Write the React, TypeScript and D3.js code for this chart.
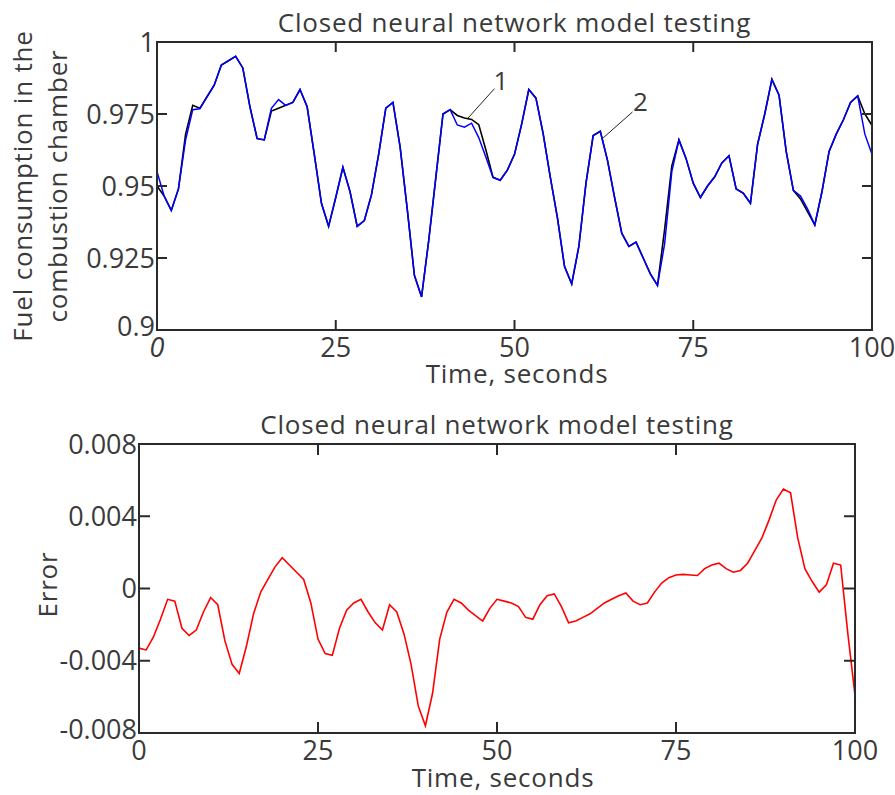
import React from 'react';
import * as d3 from 'd3';

// time axis, one reading per second
const TIME = d3.range(0, 101);

// curve 1 – measured fuel consumption (black)
const MEASURED = [
  0.950, 0.9465, 0.9415, 0.949, 0.968, 0.978, 0.977, 0.981, 0.985, 0.992,
  0.9935, 0.995, 0.991, 0.9775, 0.9665, 0.966, 0.976, 0.977, 0.978, 0.979,
  0.9835, 0.9775, 0.961, 0.944, 0.936, 0.946, 0.9565, 0.948, 0.936, 0.938,
  0.947, 0.961, 0.977, 0.979, 0.9636, 0.942, 0.919, 0.9115, 0.931, 0.953,
  0.975, 0.9765, 0.9745, 0.9736, 0.9731, 0.9713, 0.9625, 0.953, 0.952, 0.9555,
  0.961, 0.9715, 0.9835, 0.9805, 0.9683, 0.9532, 0.939, 0.922, 0.916, 0.929,
  0.951, 0.9675, 0.969, 0.959, 0.946, 0.9336, 0.929, 0.9305, 0.925, 0.9195,
  0.9155, 0.935, 0.957, 0.966, 0.9595, 0.951, 0.946, 0.950, 0.9532, 0.958,
  0.9605, 0.949, 0.9475, 0.944, 0.9645, 0.975, 0.987, 0.9815, 0.962, 0.9485,
  0.9455, 0.941, 0.9365, 0.948, 0.962, 0.968, 0.973, 0.979, 0.9813, 0.975,
  0.971,
];

// curve 2 – neural network model output (blue)
const MODEL = [
  0.955, 0.9465, 0.9415, 0.949, 0.966, 0.9765, 0.9768, 0.981, 0.985, 0.992,
  0.9935, 0.995, 0.991, 0.9775, 0.9665, 0.966, 0.977, 0.980, 0.978, 0.979,
  0.9835, 0.9775, 0.961, 0.944, 0.936, 0.946, 0.9565, 0.948, 0.936, 0.938,
  0.947, 0.961, 0.977, 0.979, 0.9636, 0.942, 0.919, 0.9115, 0.931, 0.953,
  0.975, 0.9765, 0.9712, 0.9704, 0.9718, 0.9668, 0.960, 0.953, 0.952, 0.9555,
  0.961, 0.9715, 0.9835, 0.9805, 0.9683, 0.9532, 0.939, 0.922, 0.916, 0.929,
  0.951, 0.9675, 0.969, 0.959, 0.946, 0.9336, 0.929, 0.9305, 0.925, 0.9195,
  0.9155, 0.930, 0.955, 0.966, 0.9595, 0.951, 0.946, 0.950, 0.9532, 0.958,
  0.9605, 0.949, 0.9475, 0.944, 0.9645, 0.975, 0.987, 0.9815, 0.962, 0.9485,
  0.9465, 0.942, 0.9365, 0.948, 0.962, 0.968, 0.973, 0.979, 0.9813, 0.968,
  0.961,
];

// error of the model (red)
const ERROR = [
  -0.0033, -0.0034, -0.0027, -0.0017, -0.0006, -0.0007, -0.0022, -0.0026, -0.0023, -0.0013,
  -0.0005, -0.0009, -0.0029, -0.0042, -0.0047, -0.0032, -0.0014, -0.0002, 0.0005, 0.0012,
  0.0017, 0.0013, 0.0009, 0.0005, -0.0008, -0.0028, -0.0036, -0.0037, -0.0022, -0.0012,
  -0.0008, -0.0006, -0.0013, -0.0019, -0.0023, -0.0009, -0.0013, -0.0025, -0.0042, -0.0065,
  -0.0076, -0.0058, -0.0028, -0.0013, -0.0006, -0.0008, -0.0012, -0.0015, -0.0018, -0.0011,
  -0.0006, -0.0007, -0.0008, -0.0010, -0.0016, -0.0017, -0.0009, -0.0004, -0.0003, -0.0010,
  -0.0019, -0.0018, -0.0016, -0.0014, -0.0011, -0.0008, -0.0006, -0.0004, -0.00025, -0.0007,
  -0.0009, -0.0008, -0.0002, 0.0003, 0.0006, 0.00075, 0.00078, 0.00075, 0.00072, 0.0011,
  0.0013, 0.0014, 0.0011, 0.0009, 0.0010, 0.0014, 0.0021, 0.0028, 0.0038, 0.0049,
  0.0055, 0.0053, 0.0028, 0.0011, 0.0004, -0.0002, 0.0002, 0.0014, 0.0013, -0.0025,
  -0.0059,
];

const X_TICKS = [0, 25, 50, 75, 100];
const TOP_Y_TICKS = [0.9, 0.925, 0.95, 0.975, 1];
const TOP_Y_LABELS = ['0.9', '0.925', '0.95', '0.975', '1'];
const BOT_Y_TICKS = [-0.008, -0.004, 0, 0.004, 0.008];
const BOT_Y_LABELS = ['-0.008', '-0.004', '0', '0.004', '0.008'];

const TITLE = 'Closed neural network model testing';
const X_TITLE = 'Time, seconds';

const FONT = '"Open Sans", "DejaVu Sans", sans-serif';
const TEXT = '#3a3a3a';
const AXIS = '#2a2a2a';
const LABEL_SIZE = 26;
const LABEL_SPACING = 0.8;
const TICK_SIZE = 27;

type Frame = { left: number; top: number; right: number; bottom: number };

const Axes: React.FC<{
  frame: Frame;
  x: d3.ScaleLinear<number, number>;
  y: d3.ScaleLinear<number, number>;
  yTicks: number[];
  yLabels: string[];
  italicZero?: boolean;
  labelGap: number;
  tickLen: number;
}> = ({ frame, x, y, yTicks, yLabels, italicZero, labelGap, tickLen }) => {
  const { left, top, right, bottom } = frame;
  return (
    <g>
      <rect x={left} y={top} width={right - left} height={bottom - top}
        fill="none" stroke={AXIS} strokeWidth={2} />
      {X_TICKS.map(t => (
        <g key={'x' + t}>
          <line x1={x(t)} x2={x(t)} y1={bottom} y2={bottom - tickLen} stroke={AXIS} strokeWidth={2} />
          <line x1={x(t)} x2={x(t)} y1={top} y2={top + tickLen} stroke={AXIS} strokeWidth={2} />
          <text x={x(t)} y={bottom + labelGap} textAnchor="middle" fontSize={TICK_SIZE}
            fontStyle={italicZero && t === 0 ? 'italic' : 'normal'} fill={TEXT}>{t}</text>
        </g>
      ))}
      {yTicks.map((v, i) => (
        <g key={'y' + v}>
          <line x1={left} x2={left + tickLen} y1={y(v)} y2={y(v)} stroke={AXIS} strokeWidth={2} />
          <line x1={right} x2={right - tickLen} y1={y(v)} y2={y(v)} stroke={AXIS} strokeWidth={2} />
          <text x={left - 2} y={y(v)} dy={i === 0 ? '0.22em' : '0.36em'} textAnchor="end"
            fontSize={TICK_SIZE} fill={TEXT}>{yLabels[i]}</text>
        </g>
      ))}
    </g>
  );
};

const Label: React.FC<{ x: number; y: number; rotate?: boolean; children: React.ReactNode }> = ({ x, y, rotate, children }) => (
  <text transform={rotate ? `translate(${x},${y}) rotate(-90)` : `translate(${x},${y})`}
    textAnchor="middle" fontSize={LABEL_SIZE} letterSpacing={LABEL_SPACING} fill={TEXT}>
    {children}
  </text>
);

const App: React.FC = () => {
  // upper panel
  const f1: Frame = { left: 157, top: 42, right: 872, bottom: 330 };
  const x1 = d3.scaleLinear().domain([0, 100]).range([f1.left, f1.right]);
  const y1 = d3.scaleLinear().domain([0.9, 1]).range([f1.bottom, f1.top]);
  const line1 = d3.line<number>().x((d, i) => x1(TIME[i])).y(d => y1(d));

  // lower panel
  const f2: Frame = { left: 139, top: 444, right: 855, bottom: 733 };
  const x2 = d3.scaleLinear().domain([0, 100]).range([f2.left, f2.right]);
  const y2 = d3.scaleLinear().domain([-0.008, 0.008]).range([f2.bottom, f2.top]);
  const line2 = d3.line<number>().x((d, i) => x2(TIME[i])).y(d => y2(d));

  const mid1 = (f1.top + f1.bottom) / 2;
  const mid2 = (f2.top + f2.bottom) / 2;

  return (
    <svg width={895} height={795} style={{ position: 'absolute', left: 0, top: 0, background: '#fff' }}
      fontFamily={FONT}>
      {/* upper chart */}
      <Label x={(f1.left + f1.right) / 2} y={32}>{TITLE}</Label>
      <path d={line1(MEASURED) || ''} fill="none" stroke="#000" strokeWidth={1.6} />
      <path d={line1(MODEL) || ''} fill="none" stroke="#0000ff" strokeWidth={1.5} />
      {/* curve labels */}
      <line x1={x1(43.5)} y1={y1(0.9736)} x2={x1(47.2)} y2={y1(0.9838)} stroke="#222" strokeWidth={1} />
      <text x={x1(48.1)} y={y1(0.9833)} textAnchor="middle" fontSize={LABEL_SIZE} fill={TEXT}>1</text>
      <line x1={x1(62.4)} y1={y1(0.9667)} x2={x1(66.5)} y2={y1(0.9757)} stroke="#222" strokeWidth={1} />
      <text x={x1(67.6)} y={y1(0.976)} textAnchor="middle" fontSize={LABEL_SIZE} fill={TEXT}>2</text>
      <Axes frame={f1} x={x1} y={y1} yTicks={TOP_Y_TICKS} yLabels={TOP_Y_LABELS} italicZero labelGap={27} tickLen={10} />
      <Label x={517} y={383}>{X_TITLE}</Label>
      <Label x={32} y={mid1} rotate>Fuel consumption in the</Label>
      <Label x={67} y={mid1} rotate>combustion chamber</Label>

      {/* lower chart */}
      <Label x={(f2.left + f2.right) / 2} y={434}>{TITLE}</Label>
      <path d={line2(ERROR) || ''} fill="none" stroke="#ff0000" strokeWidth={1.6} />
      <Axes frame={f2} x={x2} y={y2} yTicks={BOT_Y_TICKS} yLabels={BOT_Y_LABELS} labelGap={27} tickLen={11} />
      <Label x={503} y={787}>{X_TITLE}</Label>
      <Label x={57} y={mid2 - 4} rotate>Error</Label>
    </svg>
  );
};

export default App;
